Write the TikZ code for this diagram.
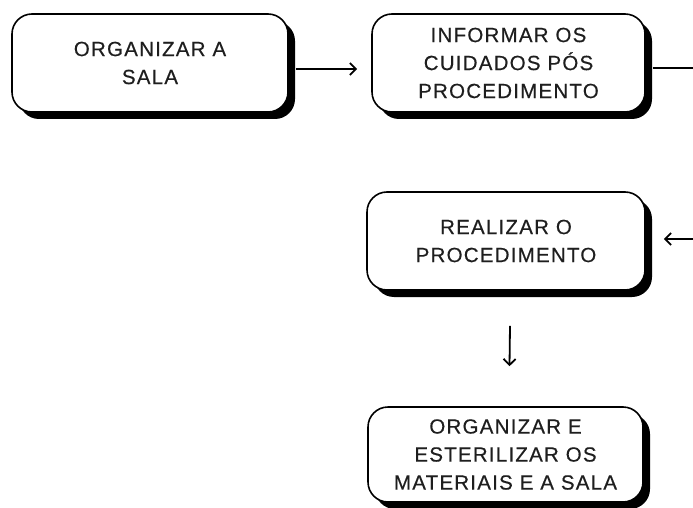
\documentclass[tikz,border=0pt]{standalone}
\usepackage{fontspec}
\setmainfont{Liberation Sans}[LetterSpace=6,FakeBold=0.4]
\usetikzlibrary{arrows.meta,shadows}
\definecolor{ink}{HTML}{1E1E1E}
\begin{document}
\begin{tikzpicture}[x=1pt,y=-1pt,
  stepbox/.style={draw=black, line width=1.6pt, fill=white, rounded corners=20pt,
    minimum width=276pt, minimum height=98pt, inner sep=0pt, align=center,
    text=ink, font=\fontsize{20.5}{28}\selectfont,
    drop shadow={opacity=1, fill=black, shadow xshift=7pt, shadow yshift=-7pt}},
  link/.style={draw=black, line width=1.8pt},
  arr/.style={link, -{Straight Barb[length=6pt,width=12pt,line width=1.8pt]}}]
\useasboundingbox (0,0) rectangle (693,508);
\node[stepbox, minimum width=276pt] (b1) at (150,63) {ORGANIZAR A\\SALA};
\node[stepbox, minimum width=273pt] (b2) at (508.5,63) {INFORMAR OS\\CUIDADOS PÓS\\PROCEDIMENTO};
\node[stepbox, minimum width=278pt] (b3) at (506,241) {REALIZAR O\\PROCEDIMENTO};
\node[stepbox, minimum width=275pt, minimum height=95pt] (b4) at (505.5,454.5) {ORGANIZAR E\\ESTERILIZAR OS\\MATERIAIS E A SALA};
\coordinate (out2) at (695,68);
\coordinate (in3) at (695,239);
\draw[arr] ([shift={(7,6)}]b1.east) -- ([shift={(-14,6)}]b2.west);
\draw[link] ([shift={(7,5)}]b2.east) -- (out2);
\draw[arr] (in3) -- ([shift={(18,-2)}]b3.east);
\draw[arr] ([shift={(4,35)}]b3.south) -- ([shift={(4,-40)}]b4.north);
\end{tikzpicture}
\end{document}
